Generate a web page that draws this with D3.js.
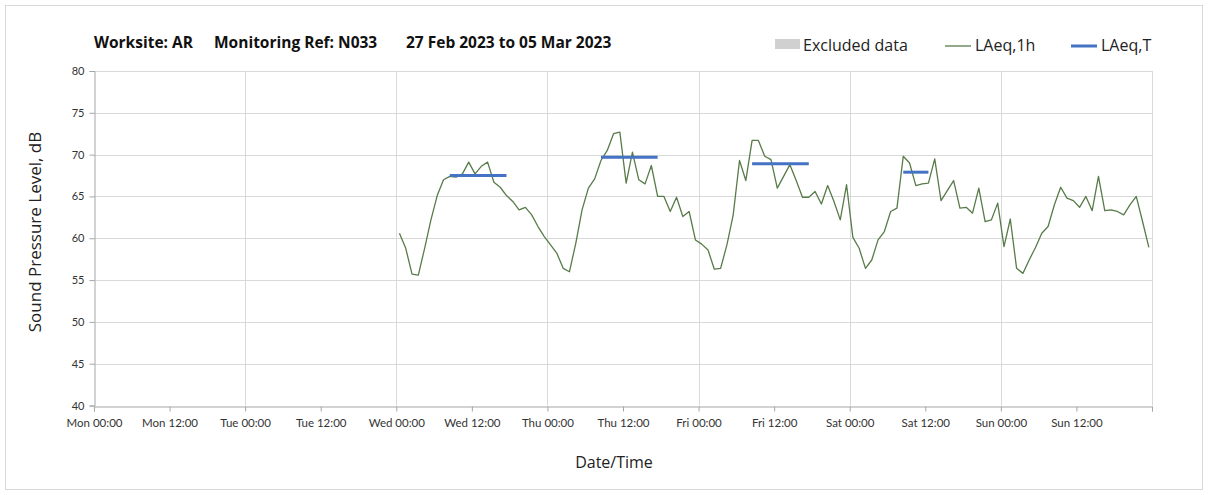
<!DOCTYPE html>
<html>
<head>
<meta charset="utf-8">
<script src="https://cdn.jsdelivr.net/npm/d3@7"></script>
<style>
  html, body { margin: 0; padding: 0; background: #fff; }
  svg { display: block; font-family: "Open Sans", Lato, sans-serif; }
</style>
</head>
<body>
<svg id="chart" width="1208" height="495"></svg>
<script>
// Week shown on the chart
const weekStart = "2023-02-27T00:00";
const weekEnd = "2023-03-06T00:00";

// Hourly LAeq,1h readings, Wed 01 Mar 00:00 through Sun 05 Mar 23:00
const hourlyStart = "2023-03-01T00:00";
const laeq1hWed = [60.6, 58.8, 55.7, 55.6, 58.8, 62.2, 65.1, 67.0, 67.4, 67.3, 67.7, 69.1,
                   67.7, 68.6, 69.1, 66.7, 66.1, 65.1, 64.4, 63.4, 63.7, 62.8, 61.4, 60.2];
const laeq1hThu = [59.2, 58.2, 56.4, 56.0, 59.4, 63.4, 66.0, 67.1, 69.3, 70.5, 72.5, 72.7,
                   66.6, 70.3, 67.0, 66.5, 68.7, 65.0, 65.0, 63.2, 64.9, 62.6, 63.2, 59.8];
const laeq1hFri = [59.3, 58.6, 56.3, 56.4, 59.2, 62.8, 69.3, 66.9, 71.7, 71.7, 69.8, 69.4,
                   66.0, 67.4, 68.8, 66.9, 64.9, 64.9, 65.6, 64.1, 66.3, 64.4, 62.2, 66.4];
const laeq1hSat = [60.1, 58.8, 56.4, 57.4, 59.8, 60.8, 63.2, 63.6, 69.8, 69.0, 66.3, 66.5,
                   66.6, 69.5, 64.5, 65.7, 66.9, 63.6, 63.7, 63.0, 66.0, 62.0, 62.2, 64.2];
const laeq1hSun = [59.0, 62.3, 56.4, 55.8, 57.4, 58.9, 60.6, 61.4, 64.0, 66.1, 64.8, 64.5,
                   63.7, 65.0, 63.3, 67.4, 63.3, 63.4, 63.2, 62.8, 64.0, 65.0, 62.0, 58.9];

// LAeq,T over each working period (first and last hour of the period)
const periodStart = ["2023-03-01T08:00", "2023-03-02T08:00", "2023-03-03T08:00", "2023-03-04T08:00"];
const periodEnd   = ["2023-03-01T17:00", "2023-03-02T17:00", "2023-03-03T17:00", "2023-03-04T12:00"];
const laeqT       = [67.5, 69.7, 68.9, 67.9];

// Axis ticks
const yTicks = [40, 45, 50, 55, 60, 65, 70, 75, 80];
const tickFormat = "%a %H:%M";

// Text
const titleParts = ["Worksite: AR", "Monitoring Ref: N033", "27 Feb 2023 to 05 Mar 2023"];
const legendLabels = ["Excluded data", "LAeq,1h", "LAeq,T"];
const xTitle = "Date/Time";
const yTitle = "Sound Pressure Level, dB";

// Each hourly value is plotted in the middle of its hour
const midHourMin = 30;

const svg = d3.select("#chart");
const W = 1208, H = 495;
const plot = { left: 94, right: 1152, top: 71, bottom: 405.5 };

const x = d3.scaleTime()
  .domain([new Date(weekStart), new Date(weekEnd)])
  .range([plot.left, plot.right]);
const y = d3.scaleLinear().domain([40, 80]).range([plot.bottom, plot.top]);

const hourly = [].concat(laeq1hWed, laeq1hThu, laeq1hFri, laeq1hSat, laeq1hSun)
  .map((v, i) => ({ t: d3.timeMinute.offset(d3.timeHour.offset(new Date(hourlyStart), i), midHourMin), v }));

const periods = laeqT.map((v, i) => ({
  t0: d3.timeMinute.offset(new Date(periodStart[i]), midHourMin),
  t1: d3.timeMinute.offset(new Date(periodEnd[i]), midHourMin),
  v
}));

// Outer frame
svg.append("rect")
  .attr("x", 5.5).attr("y", 5.5)
  .attr("width", W - 11).attr("height", H - 11)
  .attr("fill", "none").attr("stroke", "#d9d9d9");

// Horizontal gridlines
svg.append("g")
  .selectAll("line")
  .data(yTicks.filter(d => d > 40))
  .join("line")
  .attr("x1", plot.left).attr("x2", plot.right)
  .attr("y1", d => Math.round(y(d)) + 0.5).attr("y2", d => Math.round(y(d)) + 0.5)
  .attr("stroke", "#d9d9d9");

// Vertical gridlines at each midnight
const days = d3.timeDay.range(d3.timeDay.offset(new Date(weekStart), 1), d3.timeDay.offset(new Date(weekEnd), 1));
svg.append("g")
  .selectAll("line")
  .data(days)
  .join("line")
  .attr("x1", d => Math.round(x(d)) + 0.5).attr("x2", d => Math.round(x(d)) + 0.5)
  .attr("y1", plot.top).attr("y2", plot.bottom)
  .attr("stroke", "#d9d9d9");

// X axis
const xTickVals = d3.timeHour.every(12).range(new Date(weekStart), d3.timeHour.offset(new Date(weekEnd), 1));
const xAxis = d3.axisBottom(x)
  .tickValues(xTickVals)
  .tickSize(5)
  .tickPadding(7)
  .tickFormat(d => (+d === +new Date(weekEnd) ? "" : d3.timeFormat(tickFormat)(d)));
const gx = svg.append("g")
  .attr("transform", `translate(0,${Math.round(plot.bottom) + 0.5})`)
  .call(xAxis);
gx.select(".domain").attr("stroke", "#a6a6a6");
gx.selectAll(".tick line").attr("stroke", "#a6a6a6");
gx.selectAll(".tick text").attr("fill", "#333").style("font-size", "11.5px").style("font-family", "Lato, sans-serif");

// Y axis
const yAxis = d3.axisLeft(y).tickValues(yTicks).tickSize(5).tickPadding(5);
const gy = svg.append("g")
  .attr("transform", `translate(${plot.left + 0.5},0)`)
  .call(yAxis);
gy.select(".domain").attr("stroke", "#a6a6a6");
gy.selectAll(".tick line").attr("stroke", "#a6a6a6");
gy.selectAll(".tick text").attr("fill", "#333").style("font-size", "11px").style("font-family", "Lato, sans-serif");

// LAeq,1h line
svg.append("path")
  .datum(hourly)
  .attr("fill", "none")
  .attr("stroke", "#587b49")
  .attr("stroke-width", 1.3)
  .attr("stroke-linejoin", "round")
  .attr("d", d3.line().x(d => x(d.t)).y(d => y(d.v)));

// LAeq,T period lines
svg.append("g")
  .selectAll("line")
  .data(periods)
  .join("line")
  .attr("x1", d => x(d.t0)).attr("x2", d => x(d.t1))
  .attr("y1", d => y(d.v)).attr("y2", d => y(d.v))
  .attr("stroke", "#4472c4")
  .attr("stroke-width", 3);

// Title
const titleX = [94, 214, 406];
svg.append("g")
  .selectAll("text")
  .data(titleParts)
  .join("text")
  .attr("x", (d, i) => titleX[i])
  .attr("y", 48)
  .attr("font-size", 15.5)
  .attr("font-weight", "bold")
  .attr("fill", "#111")
  .text(d => d);

// Legend
const lg = svg.append("g").attr("font-size", 16).attr("fill", "#222");
lg.append("rect").attr("x", 775).attr("y", 39).attr("width", 25).attr("height", 10).attr("fill", "#d0d0d0");
lg.append("text").attr("x", 803).attr("y", 51).text(legendLabels[0]);
lg.append("line").attr("x1", 945).attr("x2", 971).attr("y1", 46).attr("y2", 46)
  .attr("stroke", "#587b49").attr("stroke-width", 1.3);
lg.append("text").attr("x", 975).attr("y", 51).text(legendLabels[1]);
lg.append("line").attr("x1", 1071).attr("x2", 1097).attr("y1", 46).attr("y2", 46)
  .attr("stroke", "#4472c4").attr("stroke-width", 3);
lg.append("text").attr("x", 1101).attr("y", 51).text(legendLabels[2]);

// Axis titles
svg.append("text")
  .attr("x", 614).attr("y", 468)
  .attr("text-anchor", "middle")
  .attr("font-size", 16)
  .attr("fill", "#222")
  .text(xTitle);
svg.append("text")
  .attr("transform", "translate(41,232) rotate(-90)")
  .attr("text-anchor", "middle")
  .attr("font-size", 17)
  .attr("fill", "#222")
  .text(yTitle);
</script>
</body>
</html>
